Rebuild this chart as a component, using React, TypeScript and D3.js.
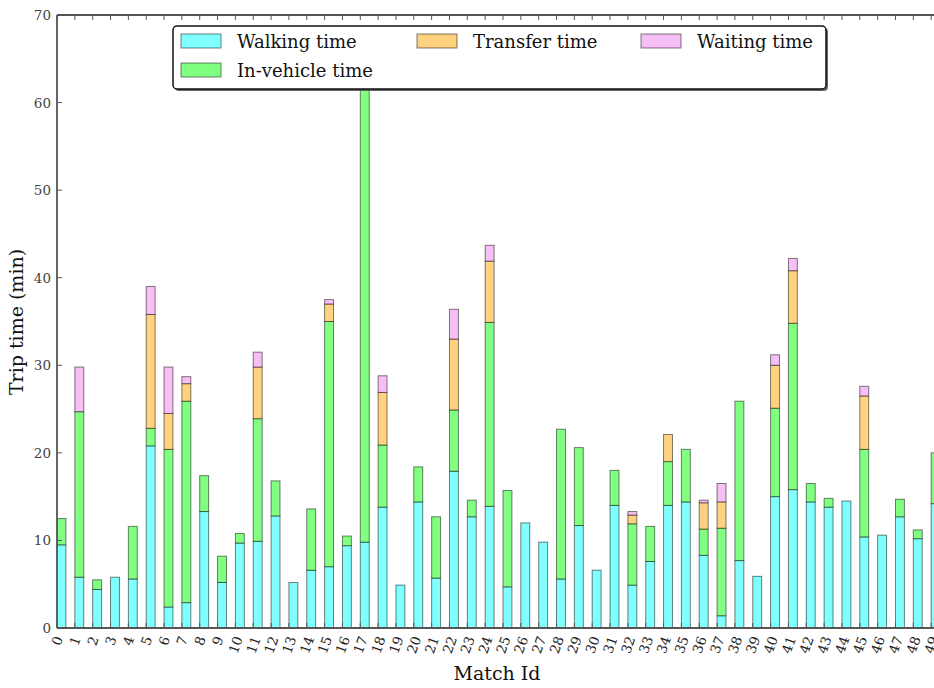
import React from "react";
import * as d3 from "d3";

const matchIds = d3.range(50).map((i) => String(i));
const walking = [9.5, 5.8, 4.4, 5.8, 5.6, 20.8, 2.4, 2.9, 13.3, 5.2, 9.7, 9.9, 12.8, 5.2, 6.6, 7.0, 9.4, 9.8, 13.8, 4.9, 14.4, 5.7, 17.9, 12.7, 13.9, 4.7, 12.0, 9.8, 5.6, 11.7, 6.6, 14.0, 4.9, 7.6, 14.0, 14.4, 8.3, 1.4, 7.7, 5.9, 15.0, 15.8, 14.4, 13.8, 14.5, 10.4, 10.6, 12.7, 10.2, 14.2];
const inVehicle = [3.0, 18.9, 1.1, 0, 6.0, 2.0, 18.0, 23.0, 4.1, 3.0, 1.1, 14.0, 4.0, 0, 7.0, 28.0, 1.1, 55.0, 7.1, 0, 4.0, 7.0, 7.0, 1.9, 21.0, 11.0, 0, 0, 17.1, 8.9, 0, 4.0, 7.0, 4.0, 5.0, 6.0, 3.0, 10.0, 18.2, 0, 10.1, 19.0, 2.1, 1.0, 0, 10.0, 0, 2.0, 1.0, 5.8];
const transfer = [0, 0, 0, 0, 0, 13.0, 4.1, 2.0, 0, 0, 0, 5.9, 0, 0, 0, 2.0, 0, 0, 6.0, 0, 0, 0, 8.1, 0, 7.0, 0, 0, 0, 0, 0, 0, 0, 1.0, 0, 3.1, 0, 3.0, 3.0, 0, 0, 4.9, 6.0, 0, 0, 0, 6.1, 0, 0, 0, 0];
const waiting = [0, 5.1, 0, 0, 0, 3.2, 5.3, 0.8, 0, 0, 0, 1.7, 0, 0, 0, 0.5, 0, 0, 1.9, 0, 0, 0, 3.4, 0, 1.8, 0, 0, 0, 0, 0, 0, 0, 0.4, 0, 0, 0, 0.3, 2.1, 0, 0, 1.2, 1.4, 0, 0, 0, 1.1, 0, 0, 0, 0];
const yTicks = [0, 10, 20, 30, 40, 50, 60, 70];

const seriesNames = ["Walking time", "In-vehicle time", "Transfer time", "Waiting time"];
const seriesColors = ["#80ffff", "#80ff80", "#ffd280", "#f6c0f6"];

const W = 934;
const H = 688;
const FONT = "'DejaVu Serif', serif";

export default function App() {
  const x = d3.scaleLinear().domain([0, 50]).range([57, 949]);
  const y = d3.scaleLinear().domain([0, 70]).range([628, 15]);
  const series = [walking, inVehicle, transfer, waiting];
  const rows = matchIds.map((id, i) => ({ id, i, walking: walking[i], inVehicle: inVehicle[i], transfer: transfer[i], waiting: waiting[i] }));
  const stack = d3.stack<any>().keys(["walking", "inVehicle", "transfer", "waiting"])(rows);
  const barW = x(0.5) - x(0);
  const tickFs = 13.5;
  const sin70 = Math.sin((70 * Math.PI) / 180);
  const cos70 = Math.cos((70 * Math.PI) / 180);
  const axisColor = "#555";

  const legendItems = [
    { name: seriesNames[0], color: seriesColors[0], sx: 181, ty: 48, sy: 34 },
    { name: seriesNames[1], color: seriesColors[1], sx: 181, ty: 77, sy: 63 },
    { name: seriesNames[2], color: seriesColors[2], sx: 417, ty: 48, sy: 34 },
    { name: seriesNames[3], color: seriesColors[3], sx: 641, ty: 48, sy: 34 },
  ];

  return (
    <svg width={W} height={H} style={{ position: "absolute", left: 0, top: 0, overflow: "hidden", background: "#fff" }} fontFamily={FONT}>
      <defs>
        <clipPath id="plot">
          <rect x={57} y={15} width={W - 57} height={613} />
        </clipPath>
      </defs>
      <g clipPath="url(#plot)">
        {stack.map((layer, k) =>
          layer.map((d, i) => {
            const h = y(d[0]) - y(d[1]);
            if (h <= 0) return null;
            return (
              <rect
                key={`${k}-${i}`}
                x={x(i)}
                y={y(d[1])}
                width={barW}
                height={h}
                fill={seriesColors[k]}
                stroke="rgba(0,0,0,0.5)"
                strokeWidth={1}
              />
            );
          })
        )}
      </g>
      {/* top ticks */}
      {d3.range(0, 51).map((t) => (
        <line key={`tt${t}`} x1={x(t)} x2={x(t)} y1={15} y2={20} stroke={axisColor} strokeWidth={1} />
      ))}
      {/* bottom ticks */}
      {d3.range(0, 51).map((t) => (
        <line key={`bt${t}`} x1={x(t)} x2={x(t)} y1={628} y2={623} stroke={axisColor} strokeWidth={1} />
      ))}
      {/* y ticks */}
      {yTicks.map((t) => (
        <g key={`yt${t}`}>
          <line x1={57} x2={62} y1={y(t)} y2={y(t)} stroke={axisColor} strokeWidth={1} />
          <text x={51} y={y(t)} textAnchor="end" dominantBaseline="central" fontSize={tickFs} fill="#444">
            {t}
          </text>
        </g>
      ))}
      {/* spines */}
      <line x1={57} x2={W} y1={15} y2={15} stroke={axisColor} strokeWidth={1.8} />
      <line x1={57} x2={W} y1={628} y2={628} stroke={axisColor} strokeWidth={1.8} />
      <line x1={57} x2={57} y1={15} y2={628} stroke={axisColor} strokeWidth={1.8} />
      {/* x tick labels */}
      {matchIds.map((id, i) => {
        const w = id.length * 0.636 * tickFs;
        const hr = w * sin70 + tickFs * 0.75 * cos70;
        const yc = 635 + hr / 2;
        return (
          <text
            key={`xl${i}`}
            transform={`translate(${x(i)},${yc}) rotate(-70)`}
            textAnchor="middle"
            dominantBaseline="central"
            fontSize={tickFs}
            fill="#222"
          >
            {id}
          </text>
        );
      })}
      {/* axis labels */}
      <text x={497} y={680} textAnchor="middle" fontSize={19} fill="#111">
        Match Id
      </text>
      <text transform={`translate(23,322) rotate(-90)`} textAnchor="middle" fontSize={19} fill="#111">
        Trip time (min)
      </text>
      {/* legend */}
      <rect x={175} y={28} width={653} height={63} rx={4} fill="#555" opacity={0.9} />
      <rect x={173} y={26} width={653} height={63} rx={4} fill="#fff" stroke="#111" strokeWidth={1.5} />
      {legendItems.map((it) => (
        <g key={it.name}>
          <rect x={it.sx} y={it.sy} width={40} height={14} fill={it.color} stroke="rgba(0,0,0,0.5)" strokeWidth={1} />
          <text x={it.sx + 56} y={it.ty} fontSize={18} fill="#111">
            {it.name}
          </text>
        </g>
      ))}
    </svg>
  );
}
